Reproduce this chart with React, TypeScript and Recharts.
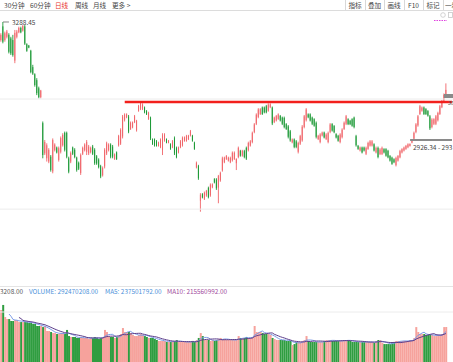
import React from 'react';
import { ComposedChart, Bar, Line, XAxis, YAxis, ReferenceLine, Cell } from 'recharts';

// ---------- data ----------
// [open, high, low, close]
const candles: [number, number, number, number][] = [
  [3233,3254,3228,3249],[3275,3288.45,3223,3228],[3233,3259,3228,3254],[3243,3264,3238,3259],[3249,3254,3192,3197],
  [3238,3243,3187,3192],[3233,3249,3182,3187],[3170,3264,3162,3255],[3243,3264,3238,3259],[3257,3274,3254,3270],
  [3270,3274,3254,3257],[3262,3279,3259,3276],[3275,3279,3218,3222],[3220,3223,3197,3200],[3216,3218,3208,3210],
  [3200,3203,3131,3135],[3150,3157,3126,3130],[3128,3131,3090,3095],[3110,3116,3064,3070],[3085,3090,3054,3058],
  [3058,3080,3054,3078],[2978,2983,2870,2880],[2885,2926,2880,2920],[2870,2916,2860,2910],[2860,2901,2855,2896],
  [2875,2880,2829,2834],[2830,2931,2824,2926],[2895,2916,2891,2912],[2903,2906,2885,2888],[2865,2906,2860,2901],
  [2890,2937,2885,2932],[2910,2947,2906,2942],[2948,2952,2891,2896],[2948,2952,2870,2875],[2870,2875,2824,2829],
  [2860,2891,2855,2886],[2903,2906,2880,2884],[2896,2901,2870,2874],[2872,2875,2829,2834],[2856,2860,2834,2838],
  [2825,2885,2819,2880],[2884,2906,2880,2902],[2895,2916,2891,2912],[2890,2926,2880,2920],[2885,2911,2880,2906],
  [2889,2906,2885,2902],[2906,2911,2880,2884],[2896,2901,2850,2855],[2876,2880,2850,2854],[2866,2870,2839,2843],
  [2846,2850,2809,2814],[2818,2845,2814,2840],[2845,2901,2839,2896],[2885,2921,2880,2916],[2895,2916,2891,2912],
  [2912,2916,2870,2875],[2906,2911,2870,2875],[2868,2885,2865,2882],[2888,2891,2865,2868],[2910,2942,2906,2938],
  [2915,2962,2911,2957],[2937,3003,2931,2998],[2988,3008,2983,3004],[2996,3008,2993,3005],[2998,3003,2947,2952],
  [2960,2983,2957,2979],[2965,2983,2962,2980],[2981,3003,2978,2999],[2956,2988,2952,2984],[3016,3034,3013,3030],
  [3022,3044,3018,3040],[3022,3039,3018,3035],[3026,3029,3008,3011],[3015,3018,3003,3005],[2991,3013,2988,3010],
  [2995,2998,2926,2931],[2928,2931,2911,2914],[2928,2931,2906,2909],[2922,2926,2906,2909],[2908,2921,2906,2918],
  [2904,2931,2901,2927],[2895,2947,2880,2940],[2925,2947,2921,2943],[2929,2931,2916,2918],[2918,2926,2916,2924],
  [2913,2916,2896,2899],[2904,2926,2901,2922],[2932,2937,2880,2885],[2902,2906,2870,2874],[2888,2906,2885,2903],
  [2904,2926,2901,2922],[2910,2937,2906,2933],[2924,2937,2921,2934],[2924,2942,2921,2938],[2929,2942,2926,2939],
  [2940,2957,2937,2953],[2939,2942,2921,2924],[2918,2921,2896,2899],[2842,2860,2839,2856],[2846,2850,2804,2809],
  [2740,2763,2706,2758],[2760,2763,2747,2750],[2746,2768,2742,2764],[2756,2773,2752,2770],[2779,2783,2747,2751],
  [2756,2793,2752,2789],[2781,2793,2778,2790],[2806,2809,2793,2796],[2805,2809,2773,2778],[2780,2819,2732,2815],
  [2802,2829,2798,2825],[2833,2875,2829,2870],[2858,2875,2855,2872],[2868,2880,2865,2877],[2863,2875,2860,2872],
  [2858,2875,2855,2871],[2864,2891,2860,2887],[2868,2891,2865,2887],[2855,2870,2834,2868],[2874,2906,2870,2902],
  [2893,2896,2875,2878],[2878,2896,2875,2893],[2892,2896,2870,2874],[2902,2906,2865,2869],[2895,2921,2891,2917],
  [2909,2926,2906,2922],[2920,2952,2916,2948],[2951,2978,2947,2974],[2976,3008,2972,3004],[2997,3024,2993,3020],
  [3006,3024,3003,3021],[3026,3029,3003,3006],[3026,3029,3008,3011],[3030,3034,3008,3011],[3016,3039,3013,3035],
  [3027,3039,3024,3036],[3026,3029,2972,2977],[2981,2998,2978,2995],[2986,3003,2983,3000],[2991,3008,2988,3005],
  [3000,3003,2983,2986],[2995,2998,2972,2976],[2994,2998,2962,2966],[2975,2978,2957,2960],[2968,2972,2931,2936],
  [2953,2957,2921,2925],[2919,2931,2916,2928],[2928,2931,2901,2905],[2922,2926,2901,2905],[2890,2921,2885,2917],
  [2915,2942,2911,2938],[2925,2972,2921,2967],[2966,3003,2962,2999],[2987,3024,2983,3020],[3005,3008,2993,2996],
  [3005,3008,2983,2986],[2995,2998,2972,2976],[2990,2993,2967,2970],[2979,2983,2931,2936],[2929,2942,2926,2939],
  [2920,2947,2916,2943],[2940,2952,2937,2949],[2949,2952,2931,2934],[2929,2947,2926,2943],[2920,2952,2916,2948],
  [2951,2978,2947,2974],[2975,2978,2952,2955],[2969,2972,2947,2950],[2944,2947,2931,2934],[2939,2942,2921,2924],
  [2920,2947,2916,2943],[2935,2962,2931,2958],[2960,2983,2957,2979],[2976,3003,2972,2999],[2990,2993,2972,2975],
  [2985,2988,2972,2975],[2990,2993,2967,2970],[2995,2998,2962,2966],[2938,2942,2906,2910],[2908,2911,2896,2899],
  [2894,2906,2891,2903],[2903,2906,2885,2888],[2903,2906,2891,2894],[2884,2906,2880,2902],[2899,2921,2896,2917],
  [2909,2926,2906,2922],[2909,2926,2906,2922],[2913,2916,2891,2894],[2888,2906,2885,2902],[2902,2906,2870,2874],
  [2883,2901,2880,2897],[2883,2906,2880,2902],[2898,2901,2885,2888],[2898,2901,2875,2878],[2893,2896,2870,2873],
  [2877,2880,2860,2863],[2872,2875,2850,2853],[2867,2870,2855,2858],[2849,2875,2845,2871],[2863,2880,2860,2877],
  [2873,2896,2870,2892],[2888,2901,2885,2898],[2894,2906,2891,2903],[2899,2911,2896,2908],[2904,2916,2901,2913],
  [2908,2916,2906,2914],[2918,2926.34,2916,2924],[2930,2952,2926,2948],[2951,2978,2947,2974],[2971,3003,2967,2999],
  [3006,3034,3003,3030],[3016,3029,3013,3026],[3026,3029,3003,3006],[3021,3024,3003,3006],[3015,3018,2998,3001],
  [2999,3003,2957,2962],[2966,2993,2962,2989],[2976,2993,2972,2990],[2976,3003,2972,2999],[2987,3013,2983,3009],
  [3006,3034,3003,3030],[3027,3049,3024,3045],[3047,3069,3044,3065],[3067,3100,3064,3080],
];

// volume, millions of shares
const volumes: number[] = [
  435,477,376,359,359,343,343,351,351,334, 334,334,334,334,326,326,318,318,301,301,
  301,292,301,259,259,251,242,242,234,234, 242,242,234,268,217,209,209,209,201,201,
  209,201,201,201,192,201,201,209,201,192, 201,209,268,251,217,209,209,201,209,217,
  234,284,251,251,251,242,226,217,217,226, 234,226,217,209,201,201,201,192,184,176,
  176,176,176,167,167,167,176,176,184,167, 167,167,167,167,167,167,176,167,184,201,
  242,217,184,184,184,176,184,176,184,192, 201,192,192,184,184,184,184,184,184,217,
  201,201,201,209,201,201,209,301,251,251, 251,242,234,234,234,226,201,192,184,184,
  184,184,184,176,176,176,142,150,167,167, 167,176,184,217,176,167,167,167,167,167,
  167,167,176,184,184,184,176,176,176,176, 176,176,184,184,184,176,167,167,167,167,
  167,167,167,167,167,167,167,159,176,184, 184,159,150,150,150,150,167,167,176,176,
  176,176,176,176,176,184,184,201,292,251, 234,234,234,226,226,226,226,217,217,226,
  226,234,292,292.47,
];

const tabs = ['30分钟', '60分钟', '日线', '周线', '月线', '更多 >'];
const tools = ['指标', '叠加', '画线', 'F10', '标记', '一看'];
const highLabel = '3288.45';
const markLabel = '2926.34 - 293';
const resistance = 3043;
const markLevel = 2926.34;
const volAxisLabel = '3208.00';
const volText = 'VOLUME: 292470208.00';
const ma5Text = 'MA5: 237501792.00';
const ma10Text = 'MA10: 215560992.00';

// ---------- derived table ----------
const PAD = 3;
const avg = (n: number, i: number) => {
  if (i < n - 1) return null;
  let s = 0;
  for (let k = i - n + 1; k <= i; k++) s += volumes[k];
  return s / n;
};
const rows: any[] = candles.map(([o, h, l, c], i) => ({
  i, o, h, l, c, range: [l, h], vol: volumes[i], up: c >= o, ma5: avg(5, i), ma10: avg(10, i),
}));
for (let k = 0; k < PAD; k++) rows.push({ i: candles.length + k });
const lastIdx = rows.length - 1;

const RED = '#f0656a';
const GREEN = '#1e9a38';
const VRED = '#f6a29c';
const VGREEN = '#2f9d40';

function Candle(props: any) {
  const { x, y, width, height, payload } = props;
  if (!payload || payload.o == null) return null;
  const top = Math.min(y, y + height);
  const hh = Math.abs(height);
  const { o, h, l, c } = payload;
  const k = hh / (h - l || 1);
  const py = (v: number) => top + (h - v) * k;
  const color = c >= o ? RED : GREEN;
  const cx = x + width / 2;
  const bt = py(Math.max(o, c));
  const bb = py(Math.min(o, c));
  return (
    <g>
      <line x1={cx} x2={cx} y1={top} y2={top + hh} stroke={color} strokeWidth={0.9} />
      <rect x={x} y={bt} width={width} height={Math.max(bb - bt, 0.8)} fill={color} />
    </g>
  );
}

const FONT = '"Noto Sans CJK SC", "Noto Sans", sans-serif';

export default function App() {
  return (
    <div style={{ position: 'fixed', left: 0, top: 0, width: 453, height: 362, background: '#fff', overflow: 'hidden' }}>
      <div style={{ position: 'absolute', left: 0, top: 11 }}>
        <ComposedChart width={453} height={271} data={rows} margin={{ top: 0, right: 0, bottom: 0, left: 0 }} barCategoryGap="18%">
          <XAxis dataKey="i" hide />
          <YAxis hide domain={[2490.3, 3322.2]} type="number" allowDataOverflow />
          <ReferenceLine y={3052} stroke="#ececec" strokeWidth={1} />
          <ReferenceLine y={2714} stroke="#ececec" strokeWidth={1} />
          <Bar dataKey="range" isAnimationActive={false} shape={(p: any) => <Candle {...p} />} />
          <ReferenceLine segment={[{ x: 62, y: resistance }, { x: lastIdx, y: resistance }]} stroke="#f2201c" strokeWidth={2.4} />
          <ReferenceLine segment={[{ x: 205, y: markLevel }, { x: lastIdx, y: markLevel }]} stroke="#8a8a8a" strokeWidth={2} />
          <ReferenceLine segment={[{ x: 1, y: 3288.45 }, { x: 4, y: 3288.45 }]} stroke="#666" strokeWidth={0.8} />
        </ComposedChart>
      </div>
      <div style={{ position: 'absolute', left: 0, top: 290 }}>
        <ComposedChart width={453} height={72} data={rows} margin={{ top: 0, right: 0, bottom: 0, left: 0 }} barCategoryGap="10%">
          <XAxis dataKey="i" hide />
          <YAxis hide domain={[0, 602]} type="number" allowDataOverflow />
          <ReferenceLine y={418} stroke="#ececec" strokeWidth={1} />
          <Bar dataKey="vol" isAnimationActive={false}>
            {rows.map((r, k) => (
              <Cell key={k} fill={r.up ? VRED : VGREEN} />
            ))}
          </Bar>
          <Line dataKey="ma5" stroke="#7b9be6" strokeWidth={1} dot={false} isAnimationActive={false} />
          <Line dataKey="ma10" stroke="#5e3f8c" strokeWidth={1} dot={false} isAnimationActive={false} />
        </ComposedChart>
      </div>
      <svg width={453} height={362} style={{ position: 'absolute', left: 0, top: 0, pointerEvents: 'none' }} fontFamily={FONT}>
        <line x1={0} x2={453} y1={10.5} y2={10.5} stroke="#dcdcdc" />
        {tabs.map((t, k) => (
          <text key={t} x={[4, 30, 55, 75, 93, 112][k]} y={5} fontSize={6.6} dominantBaseline="central" fill={t === '日线' ? '#e8322e' : '#444'}>{t}</text>
        ))}
        {[345, 365, 384, 404, 423, 443].map((x) => (
          <line key={x} x1={x + 0.5} x2={x + 0.5} y1={0} y2={10} stroke="#d8d8d8" />
        ))}
        {tools.map((t, k) => (
          <text key={t} x={[355, 374.5, 394, 413.5, 433, 445][k]} y={5} fontSize={6.6} dominantBaseline="central" textAnchor={k === 5 ? 'start' : 'middle'} fill="#444">{t}</text>
        ))}
        <circle cx={443} cy={15} r={2.3} fill="none" stroke="#c8c8c8" strokeWidth={0.8} />
        <rect x={448.5} y={12.5} width={4} height={5} fill="none" stroke="#c8c8c8" strokeWidth={0.8} />
        <line x1={434} x2={447} y1={20.5} y2={20.5} stroke="#e040e0" strokeWidth={1.2} strokeDasharray="1.5 1" />
        <rect x={444} y={94} width={9} height={4} fill="#8a8a8a" />
        <text x={448} y={103} fontSize={5.5} dominantBaseline="central" fill="#555">38</text>
        <text x={12} y={22} fontSize={6.5} dominantBaseline="central" fill="#444">{highLabel}</text>
        <text x={413} y={147} fontSize={6.5} dominantBaseline="central" fill="#444">{markLabel}</text>
        <line x1={0} x2={453} y1={286.5} y2={286.5} stroke="#e4e4e4" />
        <text x={0} y={291} fontSize={6.4} dominantBaseline="central" fill="#555">{volAxisLabel}</text>
        <text x={29} y={291} fontSize={6.4} dominantBaseline="central" fill="#4a90d9">{volText}</text>
        <text x={105} y={291} fontSize={6.4} dominantBaseline="central" fill="#4a90d9">{ma5Text}</text>
        <text x={167} y={291} fontSize={6.4} dominantBaseline="central" fill="#a14a9c">{ma10Text}</text>
      </svg>
    </div>
  );
}
